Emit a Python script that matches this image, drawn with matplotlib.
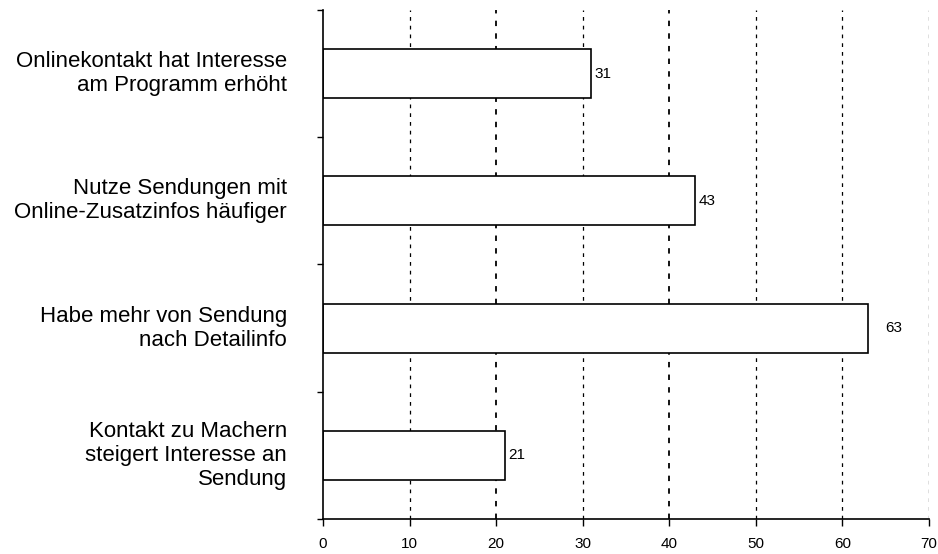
import numpy as np
import matplotlib.pyplot as plt
from matplotlib.transforms import blended_transform_factory

labels = [
    "Onlinekontakt hat Interesse\nam Programm erhöht",
    "Nutze Sendungen mit\nOnline-Zusatzinfos häufiger",
    "Habe mehr von Sendung\nnach Detailinfo",
    "Kontakt zu Machern\nsteigert Interesse an\nSendung",
]
values = [31, 43, 63, 21]
xticks = [0, 10, 20, 30, 40, 50, 60, 70]

plt.rcParams['font.family'] = ['Liberation Sans', 'DejaVu Sans']
num_font = ['Liberation Sans Narrow', 'Liberation Sans', 'DejaVu Sans']

fig = plt.figure(figsize=(9.38, 5.54), dpi=100)
ax = fig.add_axes([0.3443, 0.0632, 0.6461, 0.9188])

n = len(values)
y = np.arange(n) + 0.5

# dashed grid behind the bars
for xv in xticks[1:]:
    lw = 1.3 if xv in (20, 40) else 0.9
    ax.axvline(xv, color='black', lw=lw, ls=(0, (3, 4)), zorder=0)

ax.barh(y, values, height=0.385, color='white', edgecolor='black',
        linewidth=1.2, zorder=2)

for yi, v in zip(y, values):
    off = 2.0 if v > 60 else 0.4
    ax.text(v + off, yi, str(v), va='center', ha='left', fontsize=11,
            family=num_font, zorder=3)

ax.set_xlim(0, 70)
ax.set_ylim(n, 0)
ax.set_xticks(xticks)
ax.set_xticklabels([str(t) for t in xticks], family=num_font, fontsize=11)
ax.tick_params(axis='x', direction='out', length=5, width=1, pad=8)

ax.set_yticks(np.arange(n + 1))
ax.set_yticklabels([])
ax.tick_params(axis='y', direction='out', length=4, width=1)

trans = blended_transform_factory(fig.transFigure, ax.transData)
for yi, lab in zip(y, labels):
    ax.text(287 / 938, yi, lab, transform=trans, ha='right', va='center',
            multialignment='right', fontsize=16, linespacing=1.2)

for s in ['top', 'right']:
    ax.spines[s].set_visible(False)
ax.spines['left'].set_linewidth(1.2)
ax.spines['bottom'].set_linewidth(1.2)

fig.savefig('out.png', dpi=100)
